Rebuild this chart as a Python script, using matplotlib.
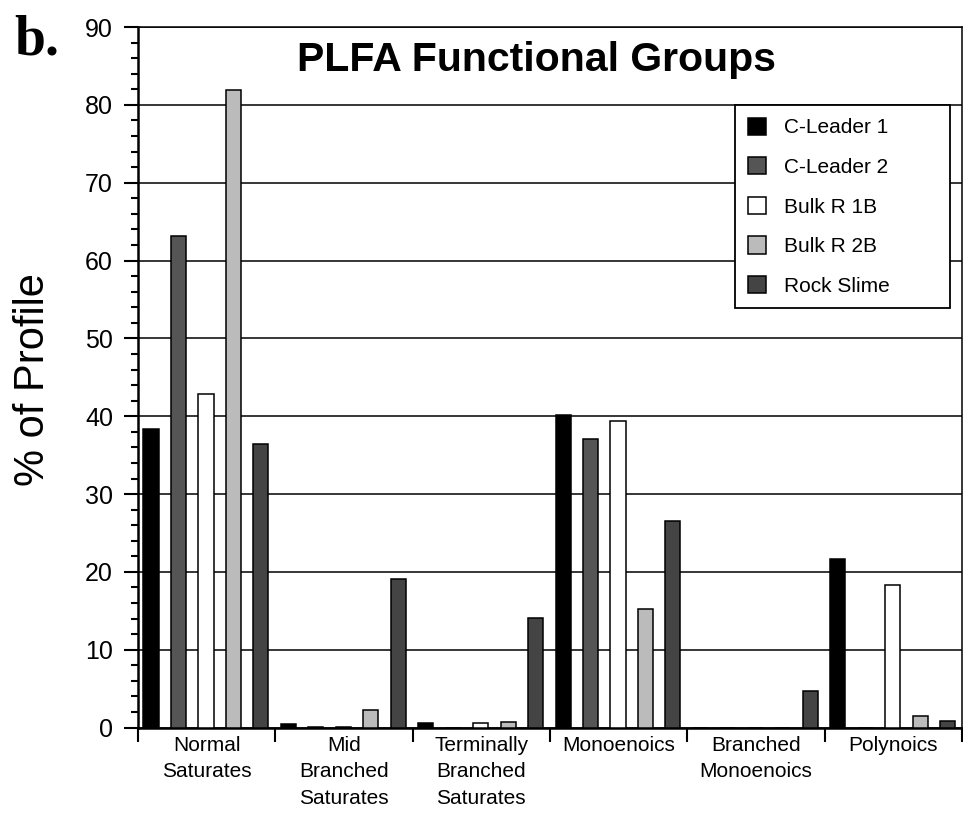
import numpy as np
import matplotlib
matplotlib.use('Agg')
import matplotlib.pyplot as plt
from matplotlib.ticker import MultipleLocator, FixedLocator

plt.rcParams['font.family'] = ['Liberation Sans', 'DejaVu Sans']

categories = ['Normal\nSaturates', 'Mid\nBranched\nSaturates', 'Terminally\nBranched\nSaturates',
              'Monoenoics', 'Branched\nMonoenoics', 'Polynoics']
series = ['C-Leader 1', 'C-Leader 2', 'Bulk R 1B', 'Bulk R 2B', 'Rock Slime']
colors = ['#000000', '#555555', '#ffffff', '#bbbbbb', '#444444']

c_leader_1 = [38.3, 0.4, 0.6, 40.1, 0.0, 21.6]
c_leader_2 = [63.2, 0.1, 0.0, 37.1, 0.0, 0.0]
bulk_r_1b = [42.9, 0.1, 0.6, 39.4, 0.0, 18.3]
bulk_r_2b = [81.9, 2.2, 0.7, 15.3, 0.0, 1.5]
rock_slime = [36.4, 19.1, 14.1, 26.5, 4.7, 0.9]
values = [c_leader_1, c_leader_2, bulk_r_1b, bulk_r_2b, rock_slime]

fig = plt.figure(figsize=(9.63, 8.19), dpi=100)
ax = fig.add_axes([0.1433, 0.1116, 0.8557, 0.8554])

x = np.arange(len(categories))
for i, (name, vals, col) in enumerate(zip(series, values, colors)):
	ax.bar(x + 0.095 + i * 0.2, vals, width=0.11, color=col, edgecolor='black',
		linewidth=1.1, label=name, zorder=3)

ax.set_xlim(0, 6)
ax.set_ylim(0, 90)
ax.yaxis.set_major_locator(MultipleLocator(10))
ax.yaxis.set_minor_locator(MultipleLocator(2))
ax.grid(axis='y', which='major', color='black', linewidth=1.1, zorder=1)

# category boundaries as ticks, names as minor tick labels
ax.xaxis.set_major_locator(FixedLocator(np.arange(7)))
ax.xaxis.set_minor_locator(FixedLocator(x + 0.5))
ax.set_xticklabels([])
ax.set_xticklabels(categories, minor=True, fontsize=15, va='top', linespacing=1.5)
ax.tick_params(axis='x', which='major', direction='out', length=10, width=1.5)
ax.tick_params(axis='x', which='minor', length=0, pad=6)
ax.tick_params(axis='y', which='major', direction='out', length=10, width=1.5,
	labelsize=18, pad=8)
ax.tick_params(axis='y', which='minor', direction='out', length=5, width=1.5)

for s in ['left', 'bottom']:
	ax.spines[s].set_linewidth(1.8)
for s in ['top', 'right']:
	ax.spines[s].set_linewidth(1.1)

ax.text(0.484, 0.953, 'PLFA Functional Groups', transform=ax.transAxes,
	ha='center', va='center', fontsize=29.5, fontweight='bold', zorder=5)

leg = ax.legend(loc='upper left', bbox_to_anchor=(0.7245, 0.596, 0.261, 0.2926),
	mode='expand', fontsize=15, frameon=True, fancybox=False, framealpha=1,
	edgecolor='black', handlelength=0.9, handleheight=0.9, handletextpad=0.85,
	labelspacing=0.95, borderpad=0.6, borderaxespad=0)
leg.get_frame().set_linewidth(1.3)
leg.set_zorder(6)

fig.text(0.034, 0.536, '% of Profile', rotation=90, ha='center', va='center', fontsize=30)
fig.text(0.015, 0.933, 'b.', family=['Liberation Serif', 'DejaVu Serif'],
	fontweight='bold', fontsize=40, va='baseline', ha='left')

plt.savefig('out.png', dpi=100)
